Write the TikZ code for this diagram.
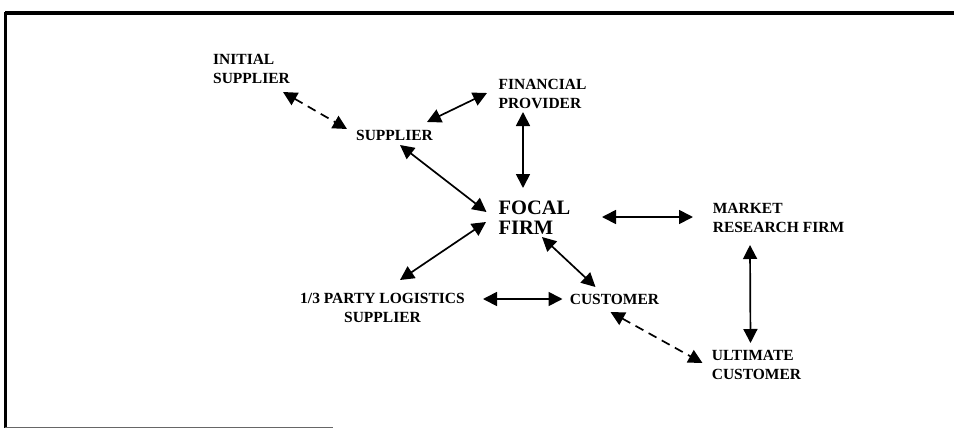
\documentclass[tikz,border=0pt]{standalone}
\usepackage{fontspec}
\setmainfont{Liberation Serif}
\usetikzlibrary{positioning}
\usetikzlibrary{arrows.meta}
\newcommand{\conn}[5][]{\draw[link,#1] ([shift={#3}]#2.center) -- ([shift={#5}]#4.center);}
\tikzstyle{actor} = [font=\fontsize{15.5}{19}\selectfont\bfseries, inner sep=0pt, align=left]
\tikzstyle{focus} = [actor, font=\fontsize{20.5}{20}\selectfont\bfseries]
\tikzstyle{link} = [line width=1.7pt, {Triangle[length=14pt,width=14pt]}-{Triangle[length=14pt,width=14pt]}]
\tikzstyle{weak} = [dash pattern=on 9pt off 6pt]

\begin{document}
\begin{tikzpicture}[x=1pt, y=1pt, on grid]
\useasboundingbox (0,0) rectangle (954,-429);

% Frame
\draw[line width=4pt] (5,-13) -- (954,-13);
\draw[line width=2.5pt] (5.5,-12) -- (5.5,-428);
\draw[line width=1.5pt, black!60] (5,-427.5) -- (333,-427.5);

% Define nodes
\node[focus] at (534.5,-218)                         (focal)    {FOCAL\\FIRM};
\node[actor, above left  = 149pt and 283pt of focal] (initsup)  {INITIAL\\SUPPLIER};
\node[actor, above left  = 83pt and 140pt of focal]  (supplier) {SUPPLIER};
\node[actor, above right = 124pt and 8pt of focal]   (finprov)  {FINANCIAL\\PROVIDER};
\node[actor, right = 244pt of focal]                 (market)   {MARKET\\RESEARCH FIRM};
\node[actor, below right = 81pt and 80pt of focal]   (customer) {CUSTOMER};
\node[actor, align=center, below left = 90pt and 152pt of focal] (tpl) {1/3 PARTY LOGISTICS\\SUPPLIER};
\node[actor, below right = 147pt and 222pt of focal] (ultimate) {ULTIMATE\\CUSTOMER};

% Edges
\conn[weak]{initsup}{(31.5,-23)}{supplier}{(-47.5,6)}
\conn{supplier}{(32.5,13)}{finprov}{(-55.5,1)}
\conn{finprov}{(-19.5,-18)}{focal}{(-11.5,30)}
\conn{supplier}{(5.5,-10)}{focal}{(-48,6)}
\conn{focal}{(-48.5,-4)}{tpl}{(17.5,28)}
\conn{focal}{(7.5,-19)}{customer}{(-19,12)}
\conn{tpl}{(100.5,9)}{customer}{(-52,0)}
\conn{focal}{(67.5,1)}{market}{(-85.5,1)}
\conn{market}{(-28.5,-27)}{ultimate}{(-6,22)}
\conn[weak]{customer}{(-4,-13)}{ultimate}{(-54,2)}

\end{tikzpicture}
\end{document}
